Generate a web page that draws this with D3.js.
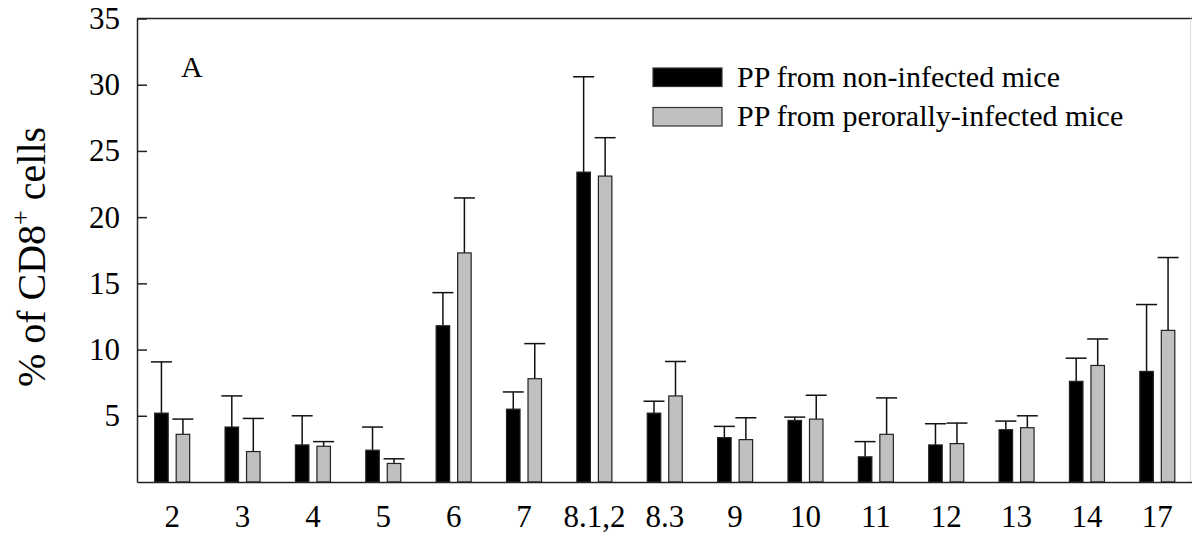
<!DOCTYPE html>
<html>
<head>
<meta charset="utf-8">
<script src="https://cdn.jsdelivr.net/npm/d3@7"></script>
<style>
  body { margin: 0; background: #fff; }
  svg { display: block; font-family: "Liberation Serif", "Times New Roman", serif; }
</style>
</head>
<body>
<div id="viz"></div>
<script>
// TCR V-beta families on the x axis
const categories = ['2', '3', '4', '5', '6', '7', '8.1,2', '8.3', '9', '10', '11', '12', '13', '14', '17'];
const seriesNames = ['PP from non-infected mice', 'PP from perorally-infected mice'];

// mean % of CD8+ cells and error (upper bar only)
const nonInfected = [5.2, 4.15, 2.8, 2.4, 11.8, 5.5, 23.4, 5.2, 3.35, 4.65, 1.9, 2.8, 3.95, 7.6, 8.35];
const nonInfectedErr = [3.87, 2.35, 2.2, 1.75, 2.5, 1.3, 7.2, 0.9, 0.85, 0.25, 1.15, 1.6, 0.65, 1.75, 5.05];
const perorally = [3.6, 2.3, 2.7, 1.4, 17.3, 7.8, 23.1, 6.5, 3.2, 4.75, 3.6, 2.9, 4.1, 8.8, 11.45];
const perorallyErr = [1.15, 2.5, 0.35, 0.35, 4.15, 2.65, 2.9, 2.6, 1.65, 1.8, 2.75, 1.55, 0.9, 2.0, 5.5];

const yTicks = [5, 10, 15, 20, 25, 30, 35];

const width = 1192, height = 540;
const margin = {left: 137, right: 0, top: 18.5, bottom: 58};
const colors = ['#000000', '#c0c0c0'];
const font = '"Liberation Serif", "Times New Roman", serif';

const svg = d3.select('#viz').append('svg')
  .attr('width', width)
  .attr('height', height);

const x = d3.scaleBand()
  .domain(categories)
  .range([margin.left, width + 0.5])
  .padding(0);

const xSub = d3.scaleBand()
  .domain(seriesNames)
  .range([x.bandwidth() / 2 - 17.5, x.bandwidth() / 2 + 17.5])
  .paddingInner(0.372)
  .paddingOuter(0);

const y = d3.scaleLinear()
  .domain([0, 35])
  .range([height - margin.bottom, margin.top]);

const rows = categories.map((c, i) => ({
  cat: c,
  vals: [
    {name: seriesNames[0], v: nonInfected[i], e: nonInfectedErr[i], color: colors[0]},
    {name: seriesNames[1], v: perorally[i], e: perorallyErr[i], color: colors[1]},
  ],
}));

// frame: top line and faint right edge
svg.append('line')
  .attr('x1', margin.left).attr('x2', width)
  .attr('y1', y(35)).attr('y2', y(35))
  .style('stroke', '#222').style('stroke-width', 1.5);
svg.append('line')
  .attr('x1', width - 1.5).attr('x2', width - 1.5)
  .attr('y1', y(35)).attr('y2', y(0))
  .style('stroke', '#ddd').style('stroke-width', 1);

// bars + error bars
const groups = svg.append('g').selectAll('g')
  .data(rows)
  .join('g')
  .attr('transform', d => `translate(${x(d.cat)},0)`);

groups.selectAll('line.err')
  .data(d => d.vals)
  .join('line')
  .attr('class', 'err')
  .attr('x1', d => xSub(d.name) + xSub.bandwidth() / 2)
  .attr('x2', d => xSub(d.name) + xSub.bandwidth() / 2)
  .attr('y1', d => y(d.v))
  .attr('y2', d => y(d.v + d.e))
  .style('stroke', '#111').style('stroke-width', 1.5);

groups.selectAll('line.cap')
  .data(d => d.vals)
  .join('line')
  .attr('class', 'cap')
  .attr('x1', d => xSub(d.name) + xSub.bandwidth() / 2 - 10.5)
  .attr('x2', d => xSub(d.name) + xSub.bandwidth() / 2 + 10.5)
  .attr('y1', d => y(d.v + d.e))
  .attr('y2', d => y(d.v + d.e))
  .style('stroke', '#111').style('stroke-width', 1.5);

groups.selectAll('rect')
  .data(d => d.vals)
  .join('rect')
  .attr('x', d => xSub(d.name))
  .attr('width', xSub.bandwidth())
  .attr('y', d => y(d.v))
  .attr('height', d => y(0) - y(d.v))
  .style('fill', d => d.color)
  .style('stroke', '#222')
  .style('stroke-width', 1.2);

// axes
const yAxis = svg.append('g')
  .attr('transform', `translate(${margin.left},0)`)
  .call(d3.axisLeft(y).tickValues(yTicks).tickSize(-10).tickSizeOuter(0).tickPadding(17))
  .attr('font-family', font)
  .attr('font-size', 31);
yAxis.selectAll('text').style('fill', '#000');
yAxis.selectAll('line, path').style('stroke', '#222').style('stroke-width', 1.5);

const xAxis = svg.append('g')
  .attr('transform', `translate(0,${y(0)})`)
  .call(d3.axisBottom(x).tickSize(0).tickPadding(23))
  .attr('font-family', font)
  .attr('font-size', 31);
xAxis.selectAll('text').style('fill', '#000');
xAxis.select('path').style('stroke', '#222').style('stroke-width', 1.5);

// y label
const yLabel = svg.append('text')
  .attr('transform', 'translate(45,257) rotate(-90)')
  .attr('text-anchor', 'middle')
  .style('font-size', '40px');
yLabel.append('tspan').text('% of CD8');
yLabel.append('tspan').attr('dy', -16).style('font-size', '26px').text('+');
yLabel.append('tspan').attr('dy', 16).text(' cells');

// panel letter
svg.append('text')
  .attr('x', 181).attr('y', 77)
  .style('font-size', '30px')
  .text('A');

// legend
const legend = svg.append('g').attr('transform', 'translate(653,68)');
const item = legend.selectAll('g')
  .data(seriesNames)
  .join('g')
  .attr('transform', (d, i) => `translate(0,${i * 39.5})`);
item.append('rect')
  .attr('width', 69).attr('height', 18.5)
  .style('fill', (d, i) => colors[i])
  .style('stroke', '#333').style('stroke-width', 1.2);
item.append('text')
  .attr('x', 84).attr('y', 18.5)
  .style('font-size', '30px')
  .text(d => d);
</script>
</body>
</html>
